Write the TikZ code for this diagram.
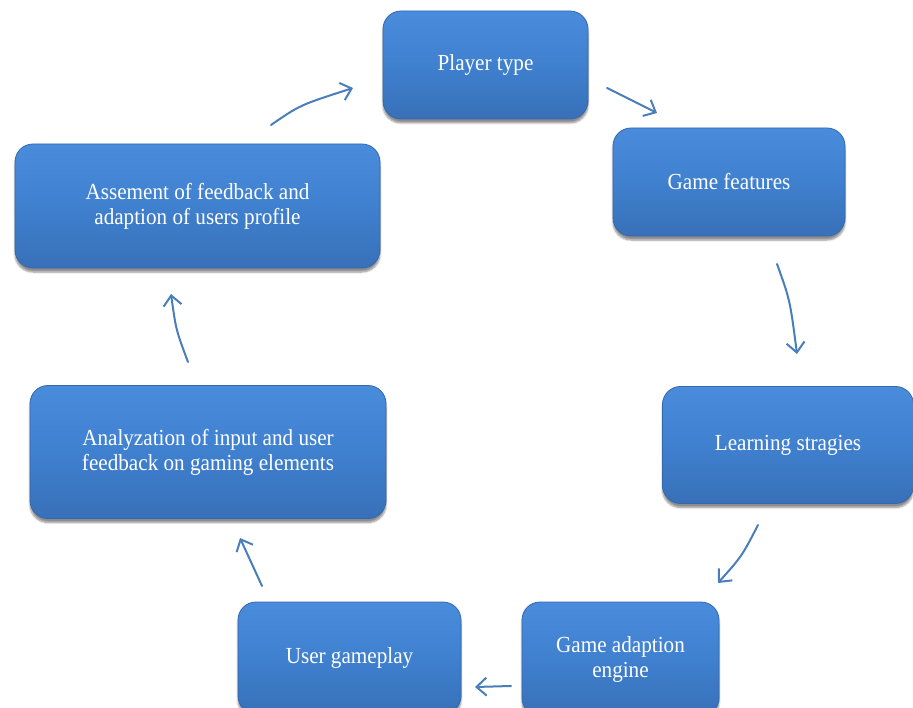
\documentclass[tikz,border=0pt]{standalone}
\usepackage{fontspec}
\setmainfont[FakeStretch=0.92]{Liberation Serif}
\usetikzlibrary{arrows.meta,shadows.blur}
\definecolor{boxtop}{HTML}{4A8CDC}
\definecolor{boxmid}{HTML}{3F80CF}
\definecolor{boxbot}{HTML}{3870B8}
\definecolor{boxline}{HTML}{3567AC}
\definecolor{arrowcol}{HTML}{4A7EBB}
\tikzset{
  stagebox/.style={rectangle, rounded corners=18pt, draw=boxline, line width=0.8pt,
    top color=boxtop, bottom color=boxbot, middle color=boxmid,
    text=white, align=center, inner sep=0pt,
    font=\fontsize{23}{25}\selectfont,
    blur shadow={shadow xshift=0pt, shadow yshift=-4pt, shadow blur steps=6, shadow opacity=45}},
  flowarrow/.style={draw=arrowcol, line width=2pt, line cap=round,
    -{Straight Barb[length=10pt,width=18pt,line width=2pt]}}
}
\begin{document}
\begin{tikzpicture}[x=1pt,y=-1pt]
\useasboundingbox (0,0) rectangle (913,708);
\clip (0,0) rectangle (913,708);
\node[stagebox, minimum width=205pt, minimum height=108pt] (player) at (485.5,65) {Player type};
\node[stagebox, minimum width=232pt, minimum height=108pt] (features) at (729,182) {Game features};
\node[stagebox, minimum width=251pt, minimum height=117pt] (learning) at (788,445) {Learning stragies};
\node[stagebox, minimum width=197pt, minimum height=114pt] (engine) at (620.5,659) {Game adaption\\engine};
\node[stagebox, minimum width=223pt, minimum height=112pt] (gameplay) at (349.5,658) {User gameplay};
\node[stagebox, minimum width=356pt, minimum height=133pt] (analyz) at (208,452) {Analyzation of input and user\\feedback on gaming elements};
\node[stagebox, minimum width=365pt, minimum height=124pt] (assess) at (197.5,206) {Assement of feedback and\\adaption of users profile};

\coordinate (a1s) at (271,125); \coordinate (a1e) at (353,88);
\coordinate (a2s) at (607,88);  \coordinate (a2e) at (657,113);
\coordinate (a3s) at (777,264); \coordinate (a3e) at (797,354);
\coordinate (a4s) at (758,525); \coordinate (a4e) at (718,583);
\coordinate (a5s) at (511,686); \coordinate (a5e) at (475,687);
\coordinate (a6s) at (262,586); \coordinate (a6e) at (240,538);
\coordinate (a7s) at (188,362); \coordinate (a7e) at (171,294);

\draw[flowarrow] (a1s) .. controls (300,105) .. (a1e);
\draw[flowarrow] (a2s) -- (a2e);
\draw[flowarrow] (a3s) .. controls (790,300) .. (a3e);
\draw[flowarrow] (a4s) .. controls (742,556) .. (a4e);
\draw[flowarrow] (a5s) -- (a5e);
\draw[flowarrow] (a6s) -- (a6e);
\draw[flowarrow] (a7s) .. controls (176,330) .. (a7e);
\end{tikzpicture}
\end{document}
